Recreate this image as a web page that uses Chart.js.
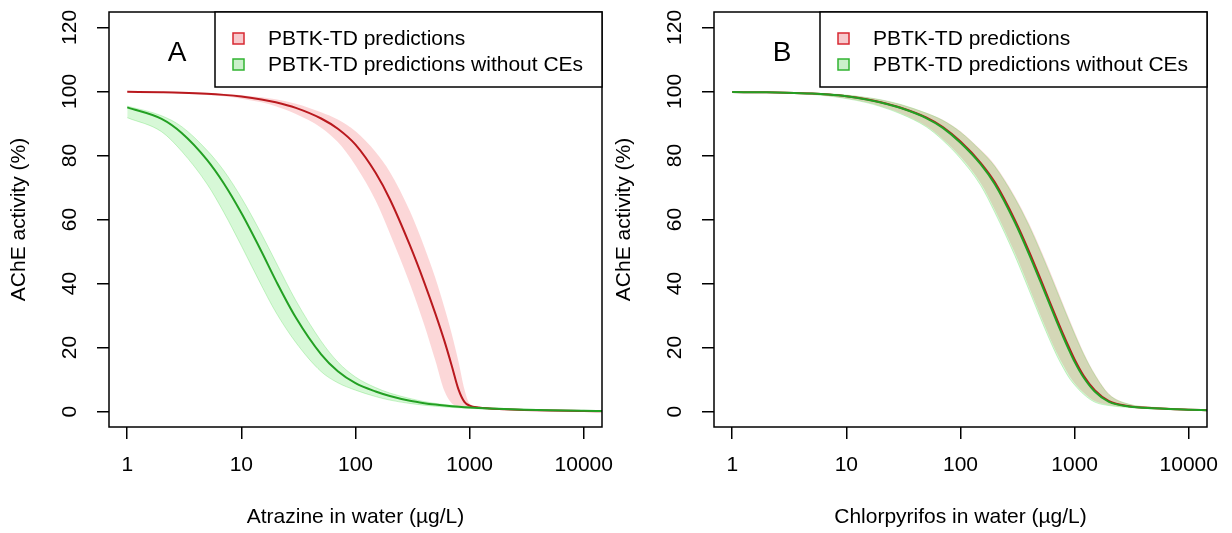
<!DOCTYPE html>
<html>
<head>
<meta charset="utf-8">
<script src="https://cdn.jsdelivr.net/npm/chart.js@4.4.0/dist/chart.umd.min.js"></script>
<style>
  body { margin: 0; background: #fff; }
  #wrap { position: relative; width: 1232px; height: 533px; }
  .panel { position: absolute; top: 0; }
</style>
</head>
<body>
<div id="wrap">
  <div class="panel" style="left:0"><canvas id="chartA" width="616" height="533"></canvas></div>
  <div class="panel" style="left:605px"><canvas id="chartB" width="616" height="533"></canvas></div>
</div>
<script>
//////////////////////// datos ////////////////////////
const concentrations = [1, 2, 3, 5, 7, 10, 15, 20, 30, 50, 70, 100, 150, 200, 300, 400, 500, 600, 700, 800, 900, 1000, 1200, 1500, 2000, 3000, 5000, 10000, 14450];
const xTicks = [1, 10, 100, 1000, 10000];
const yTicks = [0, 20, 40, 60, 80, 100, 120];
const seriesNames = ['PBTK-TD predictions', 'PBTK-TD predictions without CEs'];

// A: atrazina
const redMeanA   = [99.9, 99.75, 99.61, 99.28, 98.92, 98.38, 97.5, 96.63, 94.87, 91.54, 88.33, 83.37, 74.57, 66.32, 51.89, 40.39, 30.69, 22.16, 14.12, 6.87, 3.04, 1.89, 1.26, 0.97, 0.75, 0.54, 0.36, 0.18, 0.1];
const redLowA    = [99.7, 99.55, 99.3, 98.9, 98.47, 97.73, 96.58, 95.33, 92.92, 88.68, 84.17, 76.87, 65.91, 55.66, 39.89, 27.13, 16.04, 6.5, 2.5, 1.63, 1.25, 1.1, 0.95, 0.78, 0.62, 0.45, 0.3, 0.15, 0.08];
const redHighA   = [99.95, 99.85, 99.71, 99.47, 99.24, 98.83, 98.15, 97.53, 96.17, 93.49, 91.19, 87.53, 81.07, 74.82, 62.55, 51.5, 41.8, 32.6, 24.0, 15.5, 7.0, 2.5, 1.5, 1.15, 0.9, 0.65, 0.43, 0.22, 0.13];
const greenMeanA = [95.0, 91.4, 87.0, 78.6, 71.3, 62.0, 50.0, 41.0, 29.4, 17.9, 12.6, 8.9, 6.3, 4.9, 3.4, 2.65, 2.2, 1.9, 1.69, 1.53, 1.4, 1.3, 1.14, 0.98, 0.8, 0.6, 0.42, 0.24, 0.16];
const greenLowA  = [91.8, 87.4, 81.3, 71.1, 62.3, 51.8, 39.4, 31.1, 21.6, 12.5, 9.0, 6.7, 4.7, 3.6, 2.54, 2.0, 1.68, 1.47, 1.3, 1.2, 1.1, 1.02, 0.9, 0.78, 0.65, 0.5, 0.33, 0.18, 0.12];
const greenHighA = [95.4, 92.4, 89.0, 81.6, 75.3, 66.8, 55.5, 46.8, 34.7, 22.0, 15.5, 10.8, 7.5, 5.8, 4.1, 3.13, 2.57, 2.2, 1.95, 1.75, 1.6, 1.48, 1.34, 1.18, 1.0, 0.78, 0.56, 0.3, 0.2];

// B: clorpirifos
const redMeanB   = [99.8, 99.71, 99.6, 99.34, 99.03, 98.51, 97.56, 96.64, 94.92, 91.88, 88.87, 84.33, 77.7, 71.6, 59.8, 49.9, 41.6, 34.6, 28.8, 23.9, 19.8, 16.3, 11.2, 6.7, 3.3, 1.7, 1.08, 0.62, 0.45];
const redLowB    = [99.7, 99.6, 99.45, 99.06, 98.6, 97.82, 96.6, 95.38, 93.15, 89.2, 85.1, 79.6, 71.4, 63.0, 49.5, 38.7, 30.2, 23.5, 18.2, 14.3, 11.1, 8.9, 5.9, 3.3, 2.1, 1.35, 0.88, 0.49, 0.39];
const redHighB   = [99.9, 99.78, 99.68, 99.47, 99.27, 98.9, 98.16, 97.47, 96.0, 93.37, 91.14, 87.57, 81.84, 77.03, 67.22, 58.66, 50.96, 44.27, 38.42, 33.3, 28.83, 24.91, 18.5, 11.9, 5.6, 2.4, 1.37, 0.79, 0.56];
const greenMeanB = [99.8, 99.71, 99.6, 99.33, 99.01, 98.47, 97.5, 96.56, 94.8, 91.69, 88.62, 83.97, 77.28, 71.03, 59.06, 49.06, 40.72, 33.77, 27.94, 23.07, 18.99, 15.54, 10.64, 6.27, 3.02, 1.61, 1.05, 0.6, 0.44];
const greenLowB  = [99.7, 99.6, 99.44, 99.04, 98.56, 97.76, 96.51, 95.26, 92.98, 88.96, 84.72, 79.03, 70.69, 62.19, 48.63, 37.81, 29.33, 22.67, 17.41, 13.49, 10.41, 8.34, 5.41, 2.98, 1.9, 1.29, 0.85, 0.47, 0.38];
const greenHighB = [99.9, 99.78, 99.67, 99.46, 99.25, 98.86, 98.1, 97.39, 95.9, 93.23, 90.93, 87.27, 81.46, 76.53, 66.54, 57.86, 50.1, 43.39, 37.55, 32.46, 28.03, 24.16, 17.87, 11.45, 5.3, 2.3, 1.33, 0.77, 0.55];

//////////////////////// colores ////////////////////////
const redLine = 'rgb(185,25,30)';
const greenLine = 'rgb(35,160,35)';
const redFill = 'rgba(240,40,50,0.19)';
const greenFill = 'rgba(40,220,40,0.19)';
const greenEdge = 'rgba(90,220,90,0.3)';
const redBox = 'rgb(215,40,50)';
const greenBox = 'rgb(50,180,50)';

const FONT = '"Liberation Sans", Arial, sans-serif';
Chart.defaults.font.family = FONT;
Chart.defaults.color = '#000';

function pts(values) {
  return concentrations.map((c, i) => ({ x: c, y: values[i] }));
}

function lineSet(values, color) {
  return { data: pts(values), borderColor: color, borderWidth: 2, pointRadius: 0, fill: false, cubicInterpolationMode: 'monotone' };
}

function bandSet(values, color, fill, edge) {
  return {
    data: pts(values),
    borderWidth: edge ? 1 : 0,
    borderColor: edge || 'rgba(0,0,0,0)',
    backgroundColor: color,
    pointRadius: 0,
    fill: fill,
    cubicInterpolationMode: 'monotone'
  };
}

////////////////////////caja, etiquetas y leyenda////////////////////
const decorPlugin = {
  id: 'decor',
  afterDraw(chart, args, opts) {
    const ctx = chart.ctx;
    const a = chart.chartArea;
    const ys = chart.scales.y;
    ctx.save();
    ctx.strokeStyle = '#000';
    ctx.lineWidth = 1.5;
    ctx.strokeRect(a.left, a.top, a.right - a.left, a.bottom - a.top);

    // etiquetas del eje y giradas como en R
    ctx.fillStyle = '#000';
    ctx.font = '21px ' + FONT;
    ctx.textAlign = 'center';
    ctx.textBaseline = 'middle';
    yTicks.forEach(v => {
      ctx.save();
      ctx.translate(a.left - 39, ys.getPixelForValue(v));
      ctx.rotate(-Math.PI / 2);
      ctx.fillText(String(v), 0, 0);
      ctx.restore();
    });

    // leyenda
    const lx = a.left + 106;
    const lw = a.right - lx;
    ctx.fillStyle = '#fff';
    ctx.fillRect(lx, a.top, lw, 75);
    ctx.strokeRect(lx, a.top, lw, 75);
    const rows = [
      { fill: 'rgba(240,150,155,0.5)', stroke: redBox, y: 21 },
      { fill: 'rgba(150,225,150,0.5)', stroke: greenBox, y: 47 }
    ];
    rows.forEach((r, i) => {
      ctx.fillStyle = r.fill;
      ctx.fillRect(a.left + 124, a.top + r.y, 11, 11);
      ctx.strokeStyle = r.stroke;
      ctx.lineWidth = 1.5;
      ctx.strokeRect(a.left + 124, a.top + r.y, 11, 11);
      ctx.fillStyle = '#000';
      ctx.textAlign = 'left';
      ctx.textBaseline = 'alphabetic';
      ctx.fillText(seriesNames[i], a.left + 159, a.top + r.y + 12);
    });

    // letra del panel
    ctx.font = '28px ' + FONT;
    ctx.textAlign = 'center';
    ctx.fillText(opts.letter, a.left + 68, a.top + 49);
    ctx.restore();
  }
};

function makeChart(id, letter, xTitle, rm, rl, rh, gm, gl, gh) {
  const canvas = document.getElementById(id).getContext('2d');
  return new Chart(canvas, {
    type: 'line',
    data: {
      datasets: [
        lineSet(gm, greenLine),
        lineSet(rm, redLine),
        bandSet(gh, greenFill, '+1', greenEdge),
        bandSet(gl, greenFill, false, greenEdge),
        bandSet(rh, redFill, '+1'),
        bandSet(rl, redFill, false)
      ]
    },
    options: {
      responsive: false,
      animation: false,
      events: [],
      layout: { padding: { left: 0, right: 14, top: 12, bottom: 0 } },
      plugins: {
        legend: { display: false },
        tooltip: { enabled: false },
        decor: { letter: letter }
      },
      scales: {
        x: {
          type: 'logarithmic',
          min: 0.692,
          max: 14450,
          afterBuildTicks: s => { s.ticks = xTicks.map(v => ({ value: v })); },
          afterFit: s => { s.height = 106; s.paddingLeft = 0; s.paddingRight = 0; },
          ticks: { color: '#000', font: { size: 21 }, padding: 14, maxRotation: 0, autoSkip: false, callback: v => String(v) },
          grid: { drawOnChartArea: false, drawTicks: true, tickLength: 12, color: '#000', lineWidth: 1.5 },
          border: { display: false },
          title: { display: true, text: xTitle, color: '#000', font: { size: 21 }, padding: { top: 0, bottom: 3 } }
        },
        y: {
          min: -4.8,
          max: 124.8,
          afterBuildTicks: s => { s.ticks = yTicks.map(v => ({ value: v })); },
          afterFit: s => { s.width = 109; },
          ticks: { display: false },
          grid: { drawOnChartArea: false, drawTicks: true, tickLength: 12, color: '#000', lineWidth: 1.5 },
          border: { display: false },
          title: { display: true, text: 'AChE activity (%)', color: '#000', font: { size: 21 }, padding: { top: 7, bottom: 0 } }
        }
      }
    },
    plugins: [decorPlugin]
  });
}

document.addEventListener('DOMContentLoaded', function () {
  makeChart('chartA', 'A', 'Atrazine in water (µg/L)', redMeanA, redLowA, redHighA, greenMeanA, greenLowA, greenHighA);
  makeChart('chartB', 'B', 'Chlorpyrifos in water (µg/L)', redMeanB, redLowB, redHighB, greenMeanB, greenLowB, greenHighB);
});
</script>
</body>
</html>
